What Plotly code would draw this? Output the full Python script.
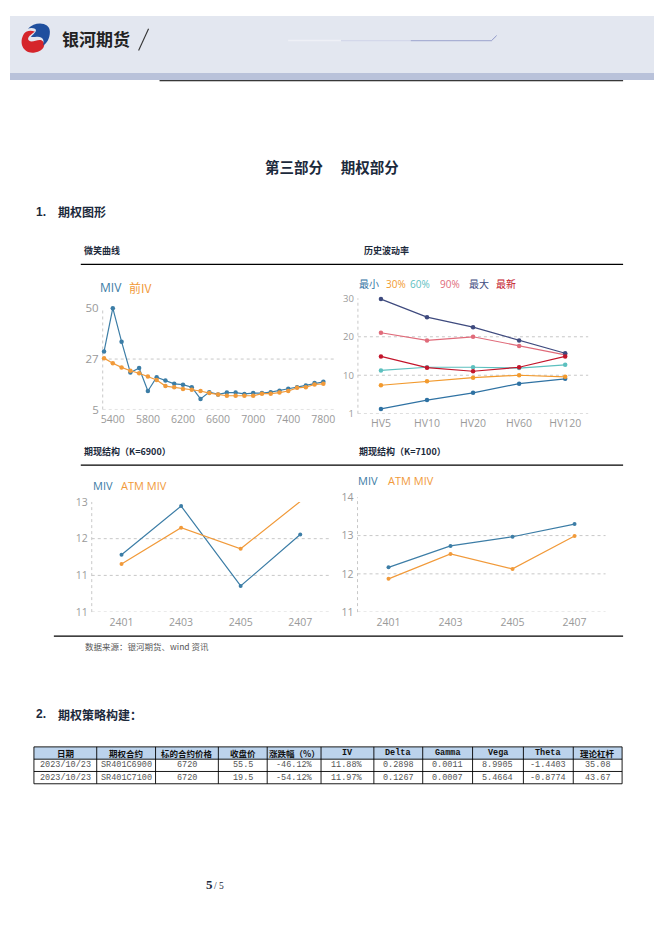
import plotly.graph_objects as go

# page is 662x936; the browser keeps an 8px body margin, so the figure is 646x920
PAGE_W, PAGE_H, M = 662, 936, 8
W, H = PAGE_W - 2 * M, PAGE_H - 2 * M
def fx(x): return (x - M) / W
def fy(y): return 1 - (y - M) / H

# ---------------- data ----------------
smile_strikes = [5300, 5400, 5500, 5600, 5700, 5800, 5900, 6000, 6100, 6200, 6300, 6400, 6500,
                 6600, 6700, 6800, 6900, 7000, 7100, 7200, 7300, 7400, 7500, 7600, 7700, 7800]
smile_miv = [30.7, 50.0, 35.1, 21.4, 23.4, 13.2, 19.3, 17.9, 16.4, 16.0, 14.9, 9.7, 12.7,
             11.7, 12.5, 12.5, 11.9, 12.3, 12.3, 12.7, 13.3, 14.2, 14.9, 15.7, 16.8, 17.3]
smile_prev = [27.8, 25.5, 23.7, 22.2, 21.1, 19.6, 18.1, 15.4, 14.9, 14.1, 13.8, 13.2, 12.3,
              11.7, 11.1, 11.1, 11.1, 11.1, 12.0, 12.0, 12.5, 13.2, 14.6, 14.9, 16.1, 16.4]
smile_xticks = [5400, 5800, 6200, 6600, 7000, 7400, 7800]
smile_yticks = [5, 27.4, 50]

hv_terms = ["HV5", "HV10", "HV20", "HV60", "HV120"]
hv_min = [2.0, 4.2, 6.0, 8.3, 9.5]
hv_30 = [7.9, 8.9, 9.8, 10.4, 10.0]
hv_60 = [11.6, 12.4, 12.4, 12.2, 13.0]
hv_90 = [21.0, 19.1, 20.0, 17.7, 15.5]
hv_max = [29.4, 24.9, 22.4, 19.1, 15.9]
hv_latest = [15.1, 12.3, 11.4, 12.4, 15.1]
hv_yticks = [0.8, 10.4, 20.0, 29.6]

months = ["2401", "2403", "2405", "2407"]
k6900_miv = [11.85, 12.91, 11.17, 12.29]
k6900_atm = [11.65, 12.44, 11.98, 13.01]
k6900_yticks = [10.6, 11.4, 12.2, 13.0]
k7100_miv = [12.17, 12.73, 12.97, 13.30]
k7100_atm = [11.87, 12.52, 12.13, 12.99]
k7100_yticks = [11, 12, 13, 14]

table_headers = ["日期", "期权合约", "标的合约价格", "收盘价", "涨跌幅（%）", "IV",
                 "Delta", "Gamma", "Vega", "Theta", "理论杠杆"]
table_rows = [
    ["2023/10/23", "SR401C6900", "6720", "55.5", "-46.12%", "11.88%", "0.2898", "0.0011", "8.9905", "-1.4403", "35.08"],
    ["2023/10/23", "SR401C7100", "6720", "19.5", "-54.12%", "11.97%", "0.1267", "0.0007", "5.4664", "-0.8774", "43.67"],
]

# ---------------- styles ----------------
C_BLUE = "#3c7da6"
C_ORANGE = "#f19a3a"
HV_COLORS = ["#2f72a3", "#f29a2e", "#5cc0bf", "#e06b7a", "#3e4a7e", "#c3152b"]
HV_NAMES = ["最小", "30%", "60%", "90%", "最大", "最新"]
TICK_C = "#9a9a9a"
GRID_C = "#c8c8c8"
NUM_FONT = "Open Sans"
CJK = "Noto Sans CJK SC"

fig = go.Figure()

def line_trace(x, y, color, xa, ya, size=4, width=1.2):
    fig.add_trace(go.Scatter(x=x, y=y, mode="lines+markers", xaxis=xa, yaxis=ya,
                             line=dict(color=color, width=width),
                             marker=dict(color=color, size=size),
                             cliponaxis=False, showlegend=False, hoverinfo="skip"))

line_trace(smile_strikes, smile_miv, C_BLUE, "x", "y", size=4.5)
line_trace(smile_strikes, smile_prev, C_ORANGE, "x", "y", size=4.5)
for vals, col in zip([hv_min, hv_30, hv_60, hv_90, hv_max, hv_latest], HV_COLORS):
    line_trace(hv_terms, vals, col, "x2", "y2", size=4.5)
line_trace(months, k6900_miv, C_BLUE, "x3", "y3")
line_trace(months, k6900_atm, C_ORANGE, "x3", "y3")
line_trace(months, k7100_miv, C_BLUE, "x4", "y4")
line_trace(months, k7100_atm, C_ORANGE, "x4", "y4")

def xax(dom, anchor, rng, tickvals=None, size=10.5, cat=False):
    d = dict(domain=[fx(dom[0]), fx(dom[1])], anchor=anchor, range=rng,
             showgrid=False, zeroline=False, showline=False, ticks="",
             ticklabelstandoff=2,
             tickfont=dict(family=NUM_FONT, size=size, color=TICK_C), fixedrange=True)
    if cat:
        d["type"] = "category"
    if tickvals is not None:
        d["tickvals"] = tickvals
    return d

def yax(dom, anchor, rng, tickvals, size=11, fmt=".0f"):
    return dict(domain=[fy(dom[1]), fy(dom[0])], anchor=anchor, range=rng,
                tickvals=tickvals, tickformat=fmt, showgrid=False, zeroline=False,
                showline=False, ticks="", ticklabelstandoff=3,
                tickfont=dict(family=NUM_FONT, size=size, color=TICK_C), fixedrange=True)

layout = dict(
    width=W, height=H, margin=dict(l=0, r=0, t=0, b=0),
    paper_bgcolor="white", plot_bgcolor="rgba(0,0,0,0)", showlegend=False,
    xaxis=xax((101, 335), "y", [5285, 7944], smile_xticks, size=10.5),
    yaxis=yax((305, 408), "x", [5, 50], smile_yticks, size=11.5),
    xaxis2=xax((357, 588), "y2", [-0.5, 4.5], size=10.5, cat=True),
    yaxis2=yax((295, 412.3), "x2", [0.8, 29.6], hv_yticks, size=9.5),
    xaxis3=xax((90, 329), "y3", [-0.5, 3.5], size=10.5, cat=True),
    yaxis3=yax((502, 614), "x3", [10.6, 13.0], k6900_yticks, size=10.5),
    xaxis4=xax((356.6, 605.4), "y4", [-0.5, 3.5], size=10.5, cat=True),
    yaxis4=yax((497.3, 614), "x4", [11, 14], k7100_yticks, size=10.5),
)
fig.update_layout(**layout)

shapes = []
annotations = []

def rect(x0, y0, x1, y1, fill, lw=0, lc=None, layer="below"):
    shapes.append(dict(type="rect", xref="paper", yref="paper", x0=fx(x0), x1=fx(x1),
                       y0=fy(y1), y1=fy(y0), fillcolor=fill,
                       line=dict(width=lw, color=lc or fill), layer=layer))

def hline(x0, x1, y, color="black", w=1, dash="solid"):
    shapes.append(dict(type="line", xref="paper", yref="paper", x0=fx(x0), x1=fx(x1),
                       y0=fy(y), y1=fy(y), line=dict(color=color, width=w, dash=dash)))

def vline(x, y0, y1, color="black", w=1):
    shapes.append(dict(type="line", xref="paper", yref="paper", x0=fx(x), x1=fx(x),
                       y0=fy(y0), y1=fy(y1), line=dict(color=color, width=w)))

def text(x, y, s, size, color="#1c2a3c", family=CJK, xanchor="left", bold=False):
    if bold:
        s = "<b>" + s + "</b>"
    annotations.append(dict(xref="paper", yref="paper", x=fx(x), y=fy(y), text=s,
                            showarrow=False, xanchor=xanchor, yanchor="middle",
                            font=dict(family=family, size=size, color=color)))

def path(cmds, close=True):
    s = ""
    for c, pts in cmds:
        s += c + " " + " ".join(f"{fx(px):.5f},{fy(py):.5f}" for px, py in pts) + " "
    return s + ("Z" if close else "")

# ---- header ----
rect(M, M, PAGE_W - M, 66, "#e3e7f0")
rect(M, 66, PAGE_W - M, 73, "#b9c2da")
hline(158, 623, 73.8, "black", 1)
# logo
shapes.append(dict(type="path", xref="paper", yref="paper", fillcolor="#d5252b",
                   line=dict(width=0),
                   path=path([("M", [(22, 26)]), ("C", [(16, 36), (22, 47), (33, 45)]),
                              ("C", [(42, 44), (45, 36), (40, 33)]),
                              ("C", [(36, 31), (30, 36), (27, 33)]),
                              ("C", [(24, 30), (30, 26), (33, 24)]),
                              ("C", [(29, 22), (24, 23), (22, 26)])])))
shapes.append(dict(type="path", xref="paper", yref="paper", fillcolor="#1f4f9e",
                   line=dict(width=0),
                   path=path([("M", [(26, 21)]), ("C", [(33, 13), (48, 14), (48, 24)]),
                              ("C", [(48, 31), (45, 36), (41, 38)]),
                              ("C", [(43, 33), (41, 29), (36, 29)]),
                              ("C", [(33, 29), (30, 30), (29, 29)]),
                              ("C", [(32, 26), (36, 23), (33, 21)]),
                              ("C", [(31, 20), (28, 20), (26, 21)])])))
text(58, 31, "银河期货", 17, "#222222", bold=True)
shapes.append(dict(type="line", xref="paper", yref="paper", x0=fx(137), x1=fx(147),
                   y0=fy(43), y1=fy(21), line=dict(color="#333333", width=1.1)))
hline(287, 340, 33, "#eef0f6", 1.5)
hline(340, 410, 33, "#d4d8ea", 1.2)
hline(410, 491, 33, "#a9b0d4", 1.2)
shapes.append(dict(type="path", xref="paper", yref="paper", fillcolor="#e3e7f0",
                   line=dict(color="#9ea6d0", width=1),
                   path=path([("M", [(491, 33)]), ("L", [(496, 28), (501, 33), (496, 38)])])))

# ---- headings ----
text(331, 161, "第三部分　 期权部分", 14.5, "#1c2a3c", xanchor="center", bold=True)
text(32, 207, "1.", 12, "#1c2a3c", family="Liberation Sans", bold=True)
text(54, 207, "期权图形", 12, "#1c2a3c", bold=True)
text(32, 718, "2.", 12, "#1c2a3c", family="Liberation Sans", bold=True)
text(54, 718, "期权策略构建：", 12, "#1c2a3c", bold=True)

# ---- chart frames ----
text(80, 246, "微笑曲线", 9, "#1c2a3c", bold=True)
text(361, 246, "历史波动率", 9, "#1c2a3c", bold=True)
text(80, 451, "期现结构（K=6900）", 9, "#1c2a3c", bold=True)
text(356, 451, "期现结构（K=7100）", 9, "#1c2a3c", bold=True)
hline(79, 623, 260.5, "black", 1.2)
hline(79, 623, 464.5, "black", 1.2)
hline(52, 623, 638.5, "black", 1.2)
text(81, 648, "数据来源：银河期货、wind 资讯", 8.5, "#555555")

# ---- gridlines & left axis lines ----
def grid(xa, ya, vals):
    for v in vals:
        shapes.append(dict(type="line", xref=xa + " domain", yref=ya, x0=0, x1=1, y0=v, y1=v,
                           line=dict(color=GRID_C, width=1, dash="dot"), layer="below"))
    shapes.append(dict(type="line", xref=xa + " domain", yref=ya + " domain", x0=0, x1=0,
                       y0=0, y1=1, line=dict(color=GRID_C, width=1, dash="dot"), layer="below"))

grid("x", "y", smile_yticks[:-1])
grid("x2", "y2", hv_yticks[:-1])
grid("x3", "y3", k6900_yticks[:-1])
grid("x4", "y4", k7100_yticks[:-1])

# ---- legends (text-only, coloured) ----
def legend(items, y, size):
    for (name, col, x) in items:
        text(x, y, name, size, col, family=NUM_FONT if name.isascii() else CJK)

legend([("MIV", C_BLUE, 96), ("前IV", C_ORANGE, 125)], 284, 12)
legend([(n, c, x) for n, c, x in zip(HV_NAMES, HV_COLORS, [356, 383, 407, 437, 466, 494])], 280, 10)
legend([("MIV", C_BLUE, 89), ("ATM MIV", C_ORANGE, 117)], 485, 11)
legend([("MIV", C_BLUE, 355), ("ATM MIV", C_ORANGE, 385)], 480, 11)

# ---- table ----
col_edges = [32, 95, 154, 217, 266, 320, 373, 422, 472, 523, 573, 622]
row_edges = [751, 763.5, 776, 788.5]
rect(col_edges[0], row_edges[0], col_edges[-1], row_edges[1], "#bcd3ec")
for y in row_edges:
    hline(col_edges[0], col_edges[-1], y, "black", 0.9)
for x in col_edges:
    vline(x, row_edges[0], row_edges[-1], "black", 0.9)
for i, h in enumerate(table_headers):
    cx = (col_edges[i] + col_edges[i + 1]) / 2
    cy = (row_edges[0] + row_edges[1]) / 2
    fam = "Liberation Mono" if h.isascii() else CJK
    text(cx, cy, h, 8.5, "#111111", family=fam, xanchor="center", bold=True)
for r, row in enumerate(table_rows):
    cy = (row_edges[r + 1] + row_edges[r + 2]) / 2
    for i, v in enumerate(row):
        cx = (col_edges[i] + col_edges[i + 1]) / 2
        text(cx, cy, v, 8.5, "#555555", family="Liberation Mono", xanchor="center")

# ---- page number ----
text(203, 891, "<b>5</b>", 13, "#1c2a3c", family="Liberation Serif")
text(211, 892, "/ 5", 9.5, "#1c2a3c", family="Liberation Serif")

fig.update_layout(shapes=shapes, annotations=annotations)
fig.write_html("out.html", config={"displayModeBar": False, "staticPlot": True})
